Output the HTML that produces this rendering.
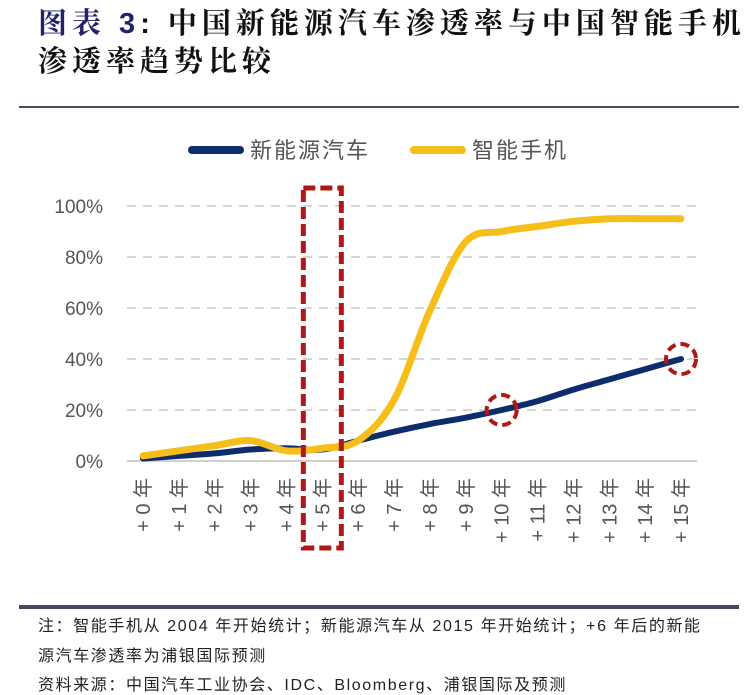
<!DOCTYPE html>
<html><head><meta charset="utf-8">
<style>
body{margin:0;background:#fff;width:755px;height:684px;overflow:hidden;position:relative;font-family:"Liberation Sans","Noto Sans CJK SC",sans-serif;}
.t{position:absolute;left:38px;font-size:29px;font-weight:bold;color:#111;font-family:"Liberation Sans","Noto Serif CJK SC",serif;letter-spacing:5px;white-space:nowrap}
.note{position:absolute;left:38px;font-size:16px;color:#222;letter-spacing:1.6px;white-space:nowrap}
</style></head><body>
<div class="t" style="top:1px"><span style="color:#23236b">图表 3</span>: 中国新能源汽车渗透率与中国智能手机</div>
<div class="t" style="top:39px">渗透率趋势比较</div>
<div style="position:absolute;left:19px;top:106px;width:720px;height:2px;background:#4a4860"></div>
<svg id="chart" width="755" height="600" style="position:absolute;left:0;top:0"></svg>
<div style="position:absolute;left:19px;top:605px;width:720px;height:4px;background:#4a4860"></div>
<div class="note" style="top:612px">注：智能手机从 2004 年开始统计；新能源汽车从 2015 年开始统计；+6 年后的新能</div>
<div class="note" style="top:642px">源汽车渗透率为浦银国际预测</div>
<div class="note" style="top:671px">资料来源：中国汽车工业协会、IDC、Bloomberg、浦银国际及预测</div>
<script>
const categories=["+0","+1","+2","+3","+4","+5","+6","+7","+8","+9","+10","+11","+12","+13","+14","+15"];
const nevValues=[1,2,3,4.5,5,4.5,8,11.5,14.5,17,20,23.5,28,32,36,40];
const phoneValues=[2,4,6,8,4,5,8,24,59,86,90,92,94,95,95,95];
const yTicks=[0,20,40,60,80,100];
const svg=document.getElementById('chart');
const NS='http://www.w3.org/2000/svg';
const x0=143,xStep=(681-143)/15,yBase=461,yTop=206;
const xs=i=>x0+i*xStep;
const ys=v=>yBase-(v/100)*(yBase-yTop);
function mk(t,a){const e=document.createElementNS(NS,t);for(const k in a)e.setAttribute(k,a[k]);svg.appendChild(e);return e;}
yTicks.forEach(v=>{
 const l=mk('line',{x1:127,x2:697,y1:ys(v),y2:ys(v),stroke:v===0?'#d0d0d0':'#d6d6d6','stroke-width':2,'stroke-dasharray':v===0?'':'9,7'});
 
 
 const t=mk('text',{x:103,y:ys(v)+7,'text-anchor':'end','font-size':19,fill:'#555','font-family':'Liberation Sans, sans-serif'});
 t.textContent=v+'%';
 
 
});
categories.forEach((c,i)=>{
 const t=mk('text',{x:0,y:0,transform:`translate(${xs(i)+7},478) rotate(-90)`,'text-anchor':'end','font-size':20,fill:'#555','font-family':'Liberation Sans, Noto Sans CJK SC, sans-serif'});
 t.textContent=c.replace('+','+ ')+' 年';
 
 
});
function smooth(vals){
 const p=vals.map((v,i)=>[xs(i),ys(v)]);
 let d='M'+p[0][0]+','+p[0][1];
 for(let i=0;i<p.length-1;i++){
  const a=p[i-1]||p[i],b=p[i],c=p[i+1],e=p[i+2]||c;
  const c1=[b[0]+(c[0]-a[0])/6,b[1]+(c[1]-a[1])/6],c2=[c[0]-(e[0]-b[0])/6,c[1]-(e[1]-b[1])/6];
  d+=` C${c1[0]},${c1[1]} ${c2[0]},${c2[1]} ${c[0]},${c[1]}`;
 }
 return d;
}
const nl=mk('path',{d:smooth(nevValues),fill:'none',stroke:'#0d2c6e','stroke-width':6,'stroke-linecap':'round'});


const pl=mk('path',{d:smooth(phoneValues),fill:'none',stroke:'#f5be1a','stroke-width':7,'stroke-linecap':'round'});


const r=mk('rect',{x:xs(5)-19,y:188,width:38,height:360,fill:'none',stroke:'#b01818','stroke-width':5,'stroke-dasharray':'12,5'});


[10,15].forEach(i=>{
 const c=mk('circle',{cx:xs(i),cy:ys(nevValues[i]),r:15,fill:'none',stroke:'#b01818','stroke-width':4,'stroke-dasharray':'9,5'});
 
 
});
const legend=[['新能源汽车','#0d2c6e',188],['智能手机','#f5be1a',410]];
legend.forEach(([n,col,x])=>{
 const l=mk('line',{x1:x+4,x2:x+52,y1:150,y2:150,stroke:col,'stroke-width':8,'stroke-linecap':'round'});
 
 
 const t=mk('text',{x:x+62,y:158,'font-size':22,fill:'#555','font-family':'Liberation Sans, Noto Sans CJK SC, sans-serif','letter-spacing':2});
 t.textContent=n;
 
 
});
</script>
</body></html>
